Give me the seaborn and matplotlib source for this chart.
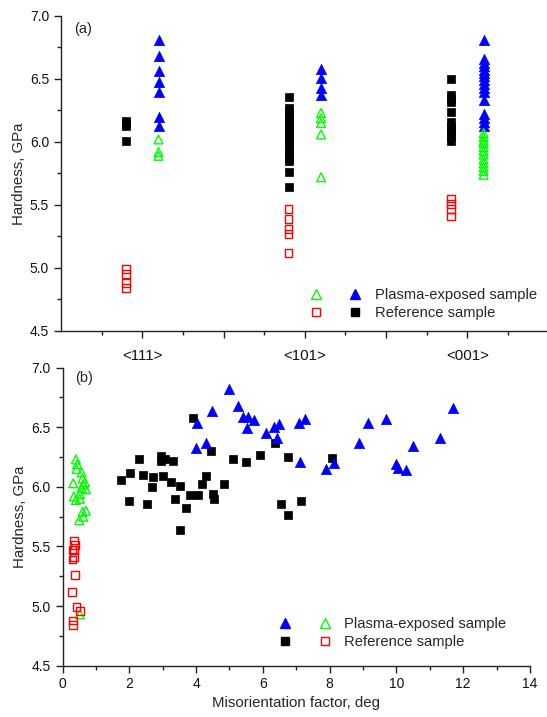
import matplotlib
matplotlib.use("Agg")
import matplotlib.pyplot as plt
from matplotlib.lines import Line2D
from matplotlib.legend_handler import HandlerTuple
from matplotlib.ticker import MultipleLocator, FixedLocator, FixedFormatter
import pandas as pd
import seaborn as sns

# ---------------- data: hardness by grain orientation (panel a) ----------------
orientations = ["<111>", "<101>", "<001>"]

ref_solid = {
    "<111>": [6.17, 6.15, 6.13, 6.01],
    "<101>": [6.36, 6.27, 6.24, 6.21, 6.18, 6.15, 6.12, 6.09, 6.06, 6.03,
              6.00, 5.97, 5.93, 5.90, 5.87, 5.85, 5.76, 5.64],
    "<001>": [6.50, 6.37, 6.34, 6.32, 6.24, 6.16, 6.13, 6.10, 6.07, 6.04, 6.01],
}
ref_hollow = {
    "<111>": [4.99, 4.95, 4.88, 4.84],
    "<101>": [5.47, 5.39, 5.31, 5.27, 5.12],
    "<001>": [5.55, 5.51, 5.47, 5.41],
}
plasma_solid = {
    "<111>": [6.81, 6.68, 6.56, 6.48, 6.40, 6.20, 6.13],
    "<101>": [6.58, 6.51, 6.43, 6.37],
    "<001>": [6.81, 6.66, 6.63, 6.60, 6.57, 6.55, 6.52, 6.49, 6.46, 6.43,
              6.40, 6.33, 6.22, 6.19, 6.16, 6.13],
}
plasma_hollow = {
    "<111>": [6.02, 5.92, 5.89],
    "<101>": [6.23, 6.19, 6.15, 6.06, 5.72],
    "<001>": [6.07, 6.04, 6.01, 5.99, 5.96, 5.93, 5.90, 5.86, 5.83, 5.80,
              5.77, 5.74],
}

# ---------------- data: hardness vs misorientation factor (panel b) ----------------
mis_plasma_solid = [4.02, 4.00, 4.30, 4.48, 4.98, 5.25, 5.40, 5.54, 5.52, 5.74,
                    6.09, 6.34, 6.47, 6.41, 7.07, 7.27, 7.11, 7.89, 8.12, 8.87,
                    9.16, 9.69, 9.99, 10.05, 10.29, 10.49, 11.31, 11.69]
hard_plasma_solid = [6.54, 6.33, 6.37, 6.64, 6.82, 6.68, 6.59, 6.59, 6.49, 6.56,
                     6.45, 6.50, 6.53, 6.41, 6.54, 6.57, 6.21, 6.15, 6.20, 6.37,
                     6.54, 6.57, 6.19, 6.16, 6.14, 6.34, 6.41, 6.66]

mis_ref_solid = [1.74, 2.02, 1.98, 2.30, 2.42, 2.67, 2.72, 2.53, 2.95, 2.95,
                 3.06, 3.02, 3.26, 3.32, 3.38, 3.53, 3.53, 3.71, 3.81, 3.90,
                 4.07, 4.18, 4.29, 4.45, 4.52, 4.53, 4.83, 5.12, 5.48, 5.92,
                 6.36, 6.74, 8.06, 6.54, 7.14, 6.74]
hard_ref_solid = [6.06, 6.12, 5.88, 6.23, 6.10, 6.00, 6.08, 5.86, 6.26, 6.22,
                  6.23, 6.09, 6.04, 6.22, 5.90, 6.01, 5.64, 5.82, 5.93, 6.58,
                  5.93, 6.02, 6.09, 6.30, 5.94, 5.90, 6.02, 6.23, 6.21, 6.27,
                  6.37, 6.25, 6.24, 5.86, 5.88, 5.76]

mis_plasma_hollow = [0.40, 0.44, 0.42, 0.57, 0.60, 0.67, 0.62, 0.32, 0.57, 0.70,
                     0.52, 0.34, 0.52, 0.40, 0.70, 0.60, 0.62, 0.50, 0.52]
hard_plasma_hollow = [6.23, 6.19, 6.15, 6.12, 6.07, 6.04, 6.02, 6.03, 5.99, 5.98,
                      5.94, 5.92, 5.90, 5.89, 5.80, 5.79, 5.75, 5.72, 4.93]

mis_ref_hollow = [0.34, 0.37, 0.30, 0.34, 0.30, 0.34, 0.37, 0.29, 0.42, 0.52,
                  0.32, 0.32]
hard_ref_hollow = [5.55, 5.51, 5.47, 5.47, 5.39, 5.41, 5.26, 5.12, 4.99, 4.96,
                   4.88, 4.84]

# ---------------- styling ----------------
sns.set_theme(style="ticks")
plt.rcParams["font.family"] = ["Liberation Sans", "DejaVu Sans"]
plt.rcParams["xtick.direction"] = "out"
plt.rcParams["ytick.direction"] = "out"

BLUE, GREEN, RED, BLACK = "#0000ff", "#00ff00", "#ff0000", "#000000"
S_TRI, S_SQ, S_OPEN = 55, 40, 30
LABEL_FS = 10.8

fig = plt.figure(figsize=(5.47, 7.17), dpi=100)
ax_a = fig.add_axes([0.1115, 0.5384, 0.8885, 0.4393])
ax_b = fig.add_axes([0.1143, 0.0716, 0.8546, 0.4156])


def long_frame(series, offset):
    rows = []
    for i, ori in enumerate(orientations):
        for v in series[ori]:
            rows.append({"orientation": ori, "pos": 2 * i + 1 + offset, "hardness": v})
    return pd.DataFrame(rows)


df_ref_solid = long_frame(ref_solid, -0.2)
df_ref_hollow = long_frame(ref_hollow, -0.2)
df_pl_solid = long_frame(plasma_solid, 0.2)
df_pl_hollow = long_frame(plasma_hollow, 0.2)

# panel (a)
sns.scatterplot(data=df_ref_solid, x="pos", y="hardness", ax=ax_a, marker="s",
                s=S_SQ, color=BLACK, edgecolor=BLACK, linewidth=0.5, zorder=3)
sns.scatterplot(data=df_ref_hollow, x="pos", y="hardness", ax=ax_a, marker="s",
                s=S_OPEN, facecolor="none", edgecolor=RED, linewidth=1, zorder=3)
sns.scatterplot(data=df_pl_solid, x="pos", y="hardness", ax=ax_a, marker="^",
                s=S_TRI, color=BLUE, edgecolor=BLUE, linewidth=0.5, zorder=3)
sns.scatterplot(data=df_pl_hollow, x="pos", y="hardness", ax=ax_a, marker="^",
                s=S_OPEN + 10, facecolor="none", edgecolor=GREEN, linewidth=1, zorder=3)

# panel (b)
sns.scatterplot(x=mis_ref_solid, y=hard_ref_solid, ax=ax_b, marker="s",
                s=S_SQ, color=BLACK, edgecolor=BLACK, linewidth=0.5, zorder=3)
sns.scatterplot(x=mis_plasma_solid, y=hard_plasma_solid, ax=ax_b, marker="^",
                s=S_TRI, color=BLUE, edgecolor=BLUE, linewidth=0.5, zorder=3)
sns.scatterplot(x=mis_plasma_hollow, y=hard_plasma_hollow, ax=ax_b, marker="^",
                s=S_OPEN + 10, facecolor="none", edgecolor=GREEN, linewidth=1, zorder=3)
sns.scatterplot(x=mis_ref_hollow, y=hard_ref_hollow, ax=ax_b, marker="s",
                s=S_OPEN, facecolor="none", edgecolor=RED, linewidth=1, zorder=3)

for ax in (ax_a, ax_b):
    for side in ("top", "right"):
        ax.spines[side].set_visible(False)
    for side in ("left", "bottom"):
        ax.spines[side].set_color("#222222")
        ax.spines[side].set_linewidth(1.0)
    ax.set_ylim(4.5, 7.0)
    ax.yaxis.set_major_locator(MultipleLocator(0.5))
    ax.yaxis.set_minor_locator(MultipleLocator(0.25))
    ax.yaxis.set_major_formatter(plt.FormatStrFormatter("%.1f"))
    ax.tick_params(which="major", length=5, width=1, labelsize=10, color="#222222",
                   labelcolor="#111111")
    ax.tick_params(which="minor", length=3, width=1, color="#222222")
    ax.set_ylabel("Hardness, GPa", fontsize=LABEL_FS, labelpad=3)
    ax.set_xlabel("")

# orientation axis
ax_a.set_xlim(0, 5.98)
ax_a.xaxis.set_major_locator(FixedLocator([1, 2, 3, 4, 5]))
ax_a.xaxis.set_major_formatter(FixedFormatter([orientations[0], "", orientations[1], "", orientations[2]]))
ax_a.xaxis.set_minor_locator(FixedLocator([0.5, 1.5, 2.5, 3.5, 4.5, 5.5]))
ax_a.tick_params(axis="x", which="major", pad=8, labelsize=10.8)

# misorientation axis
ax_b.set_xlim(0, 14)
ax_b.xaxis.set_major_locator(MultipleLocator(2))
ax_b.xaxis.set_minor_locator(MultipleLocator(1))
ax_b.set_xlabel("Misorientation factor, deg", fontsize=LABEL_FS, labelpad=3)

ax_a.text(0.027, 0.959, "(a)", transform=ax_a.transAxes, fontsize=10.5, va="center")
ax_b.text(0.028, 0.966, "(b)", transform=ax_b.transAxes, fontsize=10.5, va="center")


def mk(marker, color, hollow):
    return Line2D([], [], linestyle="none", marker=marker, markersize=7 if marker == "^" else 6,
                  markerfacecolor="none" if hollow else color, markeredgecolor=color,
                  markeredgewidth=1)


leg_kw = dict(handler_map={tuple: HandlerTuple(ndivide=None, pad=2.1)}, frameon=False,
              fontsize=10.6, handlelength=3.3, handletextpad=1.0, labelspacing=0.25,
              borderpad=0, borderaxespad=0, loc="lower left")

ax_a.legend([(mk("^", GREEN, True), mk("^", BLUE, False)),
             (mk("s", RED, True), mk("s", BLACK, False))],
            ["Plasma-exposed sample", "Reference sample"],
            bbox_to_anchor=(0.515, 0.035), **leg_kw)

ax_b.legend([(mk("^", BLUE, False), mk("^", GREEN, True)),
             (mk("s", BLACK, False), mk("s", RED, True))],
            ["Plasma-exposed sample", "Reference sample"],
            bbox_to_anchor=(0.467, 0.056), **leg_kw)

fig.savefig("out.png", dpi=100)
